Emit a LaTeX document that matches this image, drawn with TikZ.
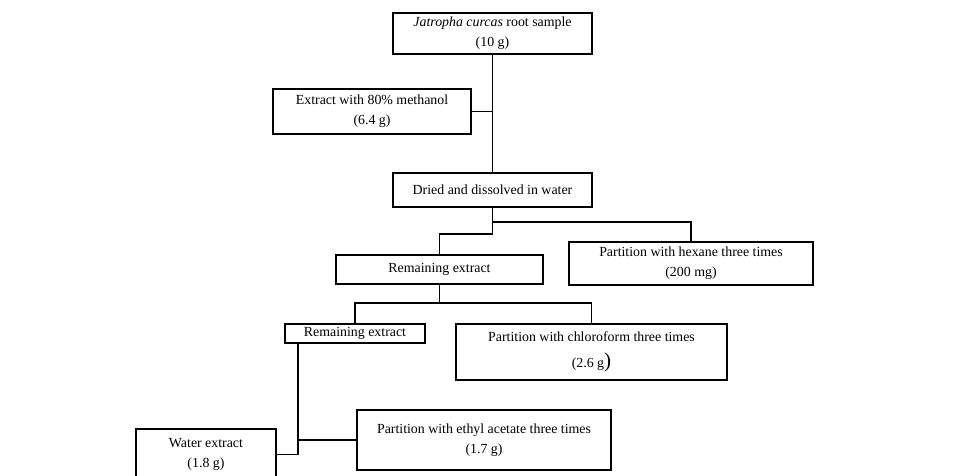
\documentclass[tikz,border=0pt]{standalone}
\usepackage{fontspec}
\setmainfont{Liberation Serif}
\usepackage{tikz}
\usetikzlibrary{positioning}
\tikzset{
  jcbox/.style={draw=black, line width=1.1pt, fill=white, align=center, inner sep=0pt},
  jcline/.style={draw=black, line width=1.1pt}
}

\begin{document}
\begin{tikzpicture}[x=0.02cm, y=-0.02cm, font=\fontsize{7.9}{11.3}\selectfont]
  \useasboundingbox[fill=white] (0,0) rectangle (953,476);
  \node[jcbox, minimum width=3.98cm, minimum height=0.82cm] (sample) at (492.5,33.5) {\textit{Jatropha curcas} root sample\\(10 g)};
  \node[jcbox, minimum width=3.96cm, minimum height=0.90cm] (methanol) at (372,111.5) {Extract with 80\% methanol\\(6.4 g)};
  \node[jcbox, minimum width=3.98cm, minimum height=0.68cm] (dried) at (492.5,190) {Dried and dissolved in water};
  \node[jcbox, minimum width=4.14cm, minimum height=0.58cm] (remainA) at (439.5,269.5) {Remaining extract};
  \node[jcbox, minimum width=4.88cm, minimum height=0.86cm] (hexane) at (691,263.5) {Partition with hexane three times\\(200 mg)};
  \node[jcbox, minimum width=2.80cm, minimum height=0.38cm] (remainB) at (355,333.5) {Remaining extract};
  \node[jcbox, minimum width=5.42cm, minimum height=1.12cm] (chloro) at (591.5,352) {Partition with chloroform three times\\[3.5pt](2.6 g{\large)}};
  \node[jcbox, minimum width=5.08cm, minimum height=1.20cm] (ethyl) at (484,440) {Partition with ethyl acetate three times\\(1.7 g)};
  \node[jcbox, minimum width=2.80cm, minimum height=1.02cm] (water) at (206,454.5) {Water extract\\(1.8 g)};
  % junctions
  \coordinate (splitA) at (492.5,222);
  \coordinate (splitB) at (492.5,234);
  \coordinate (splitC) at (439.5,303);
  \coordinate (splitD) at (298,440);
  \coordinate (splitE) at (298,454.5);
  % connectors
  \draw[jcline] (sample) -- (dried);
  \draw[jcline] (methanol) -- (methanol -| sample);
  \draw[jcline] (dried) -- (splitB) -| (remainA);
  \draw[jcline] (splitA) -| (hexane);
  \draw[jcline] (remainA) -- (splitC);
  \draw[jcline] (splitC) -| (remainB);
  \draw[jcline] (splitC) -| (chloro);
  \draw[jcline] (splitD |- remainB.south) -- (splitE) -- (water);
  \draw[jcline] (splitD) -- (ethyl);
\end{tikzpicture}
\end{document}
